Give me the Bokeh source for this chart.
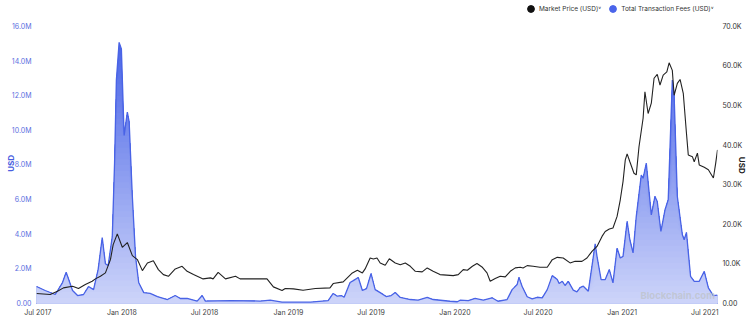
import numpy as np
import pandas as pd
from bokeh.plotting import figure
from bokeh.models import Range1d, LinearAxis, FixedTicker, Legend, LegendItem, Label
from bokeh.embed import file_html
from bokeh.resources import INLINE

# ---------------- data ----------------
fee_dates = [
    "2017-06-28", "2017-07-17", "2017-08-08", "2017-08-24", "2017-09-01", "2017-09-15", "2017-09-26",
    "2017-10-09", "2017-10-20", "2017-10-31", "2017-11-10", "2017-11-19", "2017-11-26", "2017-12-02",
    "2017-12-11", "2017-12-16", "2017-12-20", "2017-12-26", "2017-12-31", "2018-01-06", "2018-01-13",
    "2018-01-17", "2018-01-24", "2018-01-31", "2018-02-07", "2018-02-18", "2018-03-04", "2018-03-20",
    "2018-04-11", "2018-04-28", "2018-05-09", "2018-05-24", "2018-06-15", "2018-06-26", "2018-07-03",
    "2018-08-27", "2018-10-31", "2018-11-22", "2018-12-18", "2019-02-18", "2019-03-29", "2019-04-09",
    "2019-04-18", "2019-04-27", "2019-05-03", "2019-05-16", "2019-05-23", "2019-06-03", "2019-06-12",
    "2019-06-21", "2019-07-01", "2019-07-10", "2019-07-21", "2019-08-03", "2019-08-14", "2019-08-23",
    "2019-09-03", "2019-09-25", "2019-10-12", "2019-11-01", "2019-11-14", "2019-12-21", "2020-01-06",
    "2020-01-12", "2020-01-30", "2020-02-14", "2020-03-03", "2020-03-22", "2020-04-04", "2020-04-24",
    "2020-05-05", "2020-05-16", "2020-05-20", "2020-05-27", "2020-06-07", "2020-06-18", "2020-06-29",
    "2020-07-10", "2020-07-21", "2020-08-01", "2020-08-12", "2020-08-16", "2020-08-23", "2020-08-29",
    "2020-09-05", "2020-09-16", "2020-09-24", "2020-10-01", "2020-10-08", "2020-10-19", "2020-11-03",
    "2020-11-07", "2020-11-16", "2020-11-25", "2020-12-04", "2020-12-12", "2020-12-21", "2020-12-28",
    "2021-01-03", "2021-01-12", "2021-01-18", "2021-01-25", "2021-02-01", "2021-02-12", "2021-02-16",
    "2021-02-23", "2021-03-06", "2021-03-14", "2021-03-19", "2021-03-27", "2021-04-05", "2021-04-12",
    "2021-04-21", "2021-04-25", "2021-05-02", "2021-05-13", "2021-05-17", "2021-05-22", "2021-05-31",
    "2021-06-08", "2021-06-19", "2021-06-30", "2021-07-09", "2021-07-20", "2021-07-29",
]
fee_usd_m = [
    0.98, 0.75, 0.52, 1.21, 1.8, 0.75, 0.46, 0.52, 0.98, 0.8, 1.96, 3.8, 2.3, 2.19, 3.86, 8.1, 12.9,
    15.08, 14.7, 9.7, 11.05, 10.5, 6.16, 2.7, 1.2, 0.63, 0.58, 0.4, 0.23, 0.46, 0.29, 0.29, 0.14, 0.46,
    0.14, 0.17, 0.14, 0.19, 0.075, 0.075, 0.17, 0.58, 0.42, 0.46, 0.36, 1.21, 1.32, 1.5, 0.75, 0.86,
    1.73, 0.8, 0.63, 0.4, 0.46, 0.63, 0.35, 0.23, 0.19, 0.35, 0.23, 0.13, 0.1, 0.19, 0.17, 0.29, 0.19,
    0.33, 0.13, 0.23, 0.8, 1.09, 1.51, 0.98, 0.39, 0.27, 0.36, 0.33, 0.8, 1.61, 1.38, 1.15, 1.28, 1.04,
    1.28, 0.77, 0.67, 0.92, 1.0, 0.71, 3.44, 2.72, 1.38, 1.38, 1.96, 1.19, 3.2, 2.63, 2.72, 4.74, 3.68,
    2.92, 5.02, 7.42, 7.23, 8.1, 5.12, 6.18, 5.89, 4.16, 5.41, 5.99, 12.9, 12.0, 6.18, 3.97, 3.68, 4.1,
    1.57, 1.28, 1.28, 1.86, 0.9, 0.46, 0.48,
]

price_dates = [
    "2017-06-28", "2017-07-28", "2017-08-13", "2017-08-26", "2017-09-15", "2017-09-28", "2017-10-13",
    "2017-10-28", "2017-11-04", "2017-11-15", "2017-11-26", "2017-12-07", "2017-12-13", "2017-12-22",
    "2018-01-02", "2018-01-13", "2018-01-24", "2018-02-04", "2018-02-15", "2018-02-26", "2018-03-11",
    "2018-03-22", "2018-04-02", "2018-04-13", "2018-04-28", "2018-05-13", "2018-05-24", "2018-06-07",
    "2018-06-28", "2018-07-14", "2018-07-20", "2018-07-31", "2018-08-16", "2018-09-07", "2018-09-17",
    "2018-11-15", "2018-11-29", "2018-12-18", "2018-12-25", "2019-01-12", "2019-02-02", "2019-03-01",
    "2019-04-02", "2019-04-09", "2019-05-01", "2019-05-21", "2019-06-01", "2019-06-12", "2019-06-18",
    "2019-06-29", "2019-07-06", "2019-07-14", "2019-07-21", "2019-08-01", "2019-08-10", "2019-08-23",
    "2019-09-03", "2019-09-14", "2019-09-25", "2019-10-06", "2019-10-21", "2019-11-01", "2019-11-14",
    "2019-11-29", "2019-12-28", "2020-01-08", "2020-01-19", "2020-01-28", "2020-02-08", "2020-02-18",
    "2020-02-29", "2020-03-11", "2020-03-18", "2020-03-29", "2020-04-09", "2020-04-20", "2020-05-01",
    "2020-05-12", "2020-05-23", "2020-05-29", "2020-06-07", "2020-06-20", "2020-07-05", "2020-07-21",
    "2020-08-01", "2020-08-12", "2020-08-25", "2020-09-09", "2020-09-20", "2020-10-05", "2020-10-16",
    "2020-10-27", "2020-11-07", "2020-11-18", "2020-11-25", "2020-12-04", "2020-12-12", "2020-12-21",
    "2020-12-28", "2021-01-03", "2021-01-08", "2021-01-12", "2021-01-18", "2021-01-27", "2021-02-01",
    "2021-02-07", "2021-02-16", "2021-02-20", "2021-02-27", "2021-03-06", "2021-03-12", "2021-03-19",
    "2021-03-25", "2021-04-01", "2021-04-09", "2021-04-14", "2021-04-21", "2021-04-25", "2021-05-02",
    "2021-05-08", "2021-05-15", "2021-05-22", "2021-05-26", "2021-06-04", "2021-06-08", "2021-06-15",
    "2021-06-19", "2021-06-30", "2021-07-09", "2021-07-20", "2021-07-25", "2021-07-29",
]
price_usd_k = [
    2.52, 2.27, 3.1, 3.95, 4.36, 3.78, 4.79, 5.62, 6.22, 6.88, 7.73, 11.08, 14.86, 17.6, 14.2, 15.4,
    12.1, 11.1, 8.3, 10.25, 10.8, 8.56, 7.3, 6.88, 8.74, 9.4, 8.14, 7.3, 6.22, 6.47, 6.22, 7.88, 6.22,
    6.88, 6.22, 6.22, 4.2, 3.27, 3.78, 3.7, 3.35, 3.78, 3.95, 5.04, 5.47, 7.73, 8.39, 7.73, 8.74, 11.5,
    11.26, 11.5, 10.25, 9.65, 11.3, 10.25, 9.8, 10.25, 9.4, 8.14, 7.98, 8.99, 8.14, 7.3, 7.05, 7.3,
    8.56, 8.39, 9.4, 10.1, 9.24, 7.73, 5.62, 6.3, 6.88, 6.73, 8.14, 8.99, 9.14, 8.99, 9.57, 9.4, 9.14,
    9.14, 11.08, 11.66, 11.5, 10.25, 10.65, 10.65, 11.5, 13.17, 14.43, 16.95, 18.2, 18.8, 19.07, 22.0,
    26.2, 30.8, 36.3, 37.8, 35.8, 32.9, 32.5, 39.6, 46.8, 53.5, 48.0, 50.6, 56.9, 57.9, 55.2, 57.7,
    58.5, 60.8, 58.9, 52.6, 55.6, 56.6, 53.1, 43.0, 37.5, 37.1, 35.8, 38.0, 35.0, 34.4, 33.8, 31.7,
    35.4, 38.8,
]

fee_ticks_m = [0, 2, 4, 6, 8, 10, 12, 14, 16]
fee_tick_labels = ["0.00", "2.0M", "4.0M", "6.0M", "8.0M", "10.0M", "12.0M", "14.0M", "16.0M"]
price_ticks_k = [0, 10, 20, 30, 40, 50, 60, 70]
price_tick_labels = ["0.00", "10.0K", "20.0K", "30.0K", "40.0K", "50.0K", "60.0K", "70.0K"]
x_tick_dates = ["2017-07-01", "2018-01-01", "2018-07-01", "2019-01-01", "2019-07-01",
                "2020-01-01", "2020-07-01", "2021-01-01", "2021-07-01"]
x_tick_labels = ["Jul 2017", "Jan 2018", "Jul 2018", "Jan 2019", "Jul 2019",
                 "Jan 2020", "Jul 2020", "Jan 2021", "Jul 2021"]

# ---------------- build ----------------
fx = pd.to_datetime(fee_dates)
fy = np.array(fee_usd_m) * 1e6
px = pd.to_datetime(price_dates)
py = np.array(price_usd_k) * 1e3

FONT = "Inter"
FEE_MAX = fee_ticks_m[-1] * 1e6
PRICE_MAX = price_ticks_k[-1] * 1e3
# the frame reaches the top of the canvas (room for the legend); top tick sits 26px lower
HEAD = 304.0 / 278.0
NBSP = "\u00a0"

p = figure(width=752, height=319, x_axis_type="datetime", output_backend="svg",
           toolbar_location=None,
           x_range=Range1d(fx.min(), fx.max()), y_range=Range1d(0, FEE_MAX * HEAD),
           min_border_left=36, min_border_right=35, min_border_top=0, min_border_bottom=15)
p.extra_y_ranges = {"price": Range1d(0, PRICE_MAX * HEAD)}
p.outline_line_color = None
p.grid.visible = False
p.background_fill_color = "white"
p.border_fill_color = "white"

# vertical gradient fill under the fee curve, done as layered bands
top_rgb = np.array([66, 94, 230])
bot_rgb = np.array([206, 213, 250])
n_bands = 48
edges = np.linspace(0, FEE_MAX, n_bands + 1)
for i in range(n_bands - 1, -1, -1):
    if edges[i] >= fy.max():
        continue
    t = (edges[i] + edges[i + 1]) / 2 / FEE_MAX
    c = (bot_rgb + (top_rgb - bot_rgb) * t).astype(int)
    col = "#%02x%02x%02x" % tuple(c)
    p.varea(x=fx, y1=np.zeros(len(fy)), y2=np.minimum(fy, edges[i + 1]),
            fill_color=col, fill_alpha=1.0)

fee_line = p.line(fx, fy, line_color="#4963e6", line_width=1.3)
price_line = p.line(px, py, y_range_name="price", line_color="#222222", line_width=1.1)

# legend proxies: zero-size markers placed below the visible range
leg_price = p.scatter(x=fx[:1], y=[-FEE_MAX], size=0, marker="circle",
                      fill_color="#111111", line_color="#111111")
leg_fee = p.scatter(x=fx[:1], y=[-FEE_MAX], size=0, marker="circle",
                    fill_color="#4a64ea", line_color="#4a64ea")

# axes
ax_l = p.yaxis[0]
ax_l.ticker = FixedTicker(ticks=[v * 1e6 for v in fee_ticks_m])
ax_l.major_label_overrides = {v * 1e6: lab for v, lab in zip(fee_ticks_m, fee_tick_labels)}
ax_l.axis_label = "USD" + NBSP * 12
ax_l.axis_label_text_color = "#4a5fe0"
ax_l.axis_label_text_font = FONT
ax_l.axis_label_text_font_size = "8px"
ax_l.axis_label_text_font_style = "bold"
ax_l.axis_label_standoff = -7
ax_l.major_label_text_color = "#5a6ee0"

ax_r = LinearAxis(y_range_name="price",
                  ticker=FixedTicker(ticks=[v * 1e3 for v in price_ticks_k]),
                  major_label_overrides={v * 1e3: lab for v, lab in zip(price_ticks_k, price_tick_labels)},
                  axis_label=NBSP * 14 + "USD")
ax_r.axis_label_text_color = "#222222"
ax_r.axis_label_text_font = FONT
ax_r.axis_label_text_font_size = "8px"
ax_r.axis_label_text_font_style = "bold"
ax_r.axis_label_standoff = -8
ax_r.major_label_text_color = "#333333"
p.add_layout(ax_r, "right")

ax_x = p.xaxis[0]
x_ticks_ms = [pd.Timestamp(d).value / 1e6 for d in x_tick_dates]
ax_x.ticker = FixedTicker(ticks=x_ticks_ms)
ax_x.major_label_overrides = {t: lab for t, lab in zip(x_ticks_ms, x_tick_labels)}
ax_x.major_label_text_color = "#444444"

for ax in (ax_l, ax_r, ax_x):
    ax.axis_line_color = None
    ax.major_tick_line_color = None
    ax.minor_tick_line_color = None
    ax.major_tick_out = 0
    ax.major_tick_in = 0
    ax.major_label_text_font = FONT
    ax.major_label_text_font_size = "7px"
    ax.major_label_standoff = 5
ax_x.major_label_standoff = 4

legend = Legend(items=[
    LegendItem(label="Market Price (USD)˅", renderers=[leg_price]),
    LegendItem(label="Total Transaction Fees (USD)˅", renderers=[leg_fee]),
], orientation="horizontal", location=(486, 286))
legend.label_text_font = FONT
legend.label_text_font_size = "6.5px"
legend.label_text_color = "#333333"
legend.glyph_width = 17
legend.glyph_height = 17
legend.label_standoff = 0
legend.label_height = 17
legend.spacing = 3
legend.padding = 0
legend.margin = 0
legend.border_line_color = None
legend.background_fill_alpha = 0
p.add_layout(legend)

wm = Label(x=604, y=3, x_units="screen", y_units="screen", text="Blockchain.com",
           text_font=FONT, text_font_size="9.5px", text_font_style="bold",
           text_color="#bfc4ce", text_alpha=0.85)
p.add_layout(wm)

open("out.html", "w").write(file_html(p, INLINE))
